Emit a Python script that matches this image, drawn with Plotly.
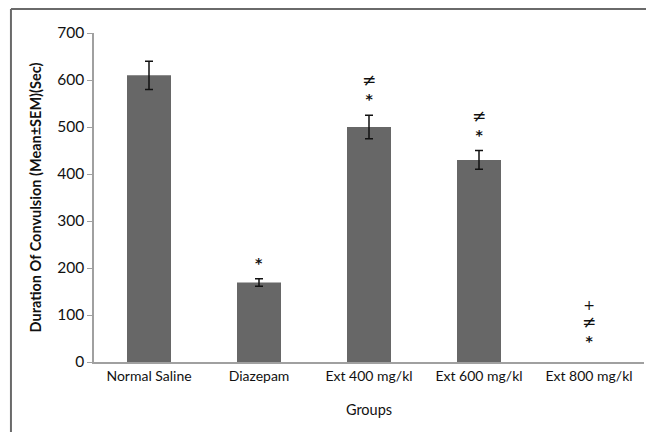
import plotly.graph_objects as go

groups = ["Normal Saline", "Diazepam", "Ext 400 mg/kl", "Ext 600 mg/kl", "Ext 800 mg/kl"]
means = [610, 169, 500, 430, 0]
sems = [30, 8, 25, 20, 0]
marks = [[], ["*"], ["≠", "*"], ["≠", "*"], ["+", "≠", "*"]]
y_ticks = [0, 100, 200, 300, 400, 500, 600, 700]

FONT = "Lato, 'Open Sans', sans-serif"
MARK_FONT = "'DejaVu Sans', sans-serif"
MARK_STYLE = {"*": "<b>*</b>", "≠": "<span style='font-size:17px'>≠</span>", "+": "+"}

fig = go.Figure()
fig.add_trace(go.Bar(
    x=groups, y=means,
    marker=dict(color="#676767", line=dict(width=0)),
    width=0.4,
    showlegend=False,
))

eb = [(g, m, s) for g, m, s in zip(groups, means, sems) if s > 0]
fig.add_trace(go.Scatter(
    x=[e[0] for e in eb], y=[e[1] for e in eb], mode="markers",
    marker=dict(size=0.1, color="rgba(0,0,0,0)"),
    error_y=dict(type="data", array=[e[2] for e in eb], visible=True,
                 color="#111111", thickness=1.5, width=4),
    showlegend=False, hoverinfo="skip",
))

for g, m, s, t in zip(groups, means, sems, marks):
    if t:
        fig.add_annotation(x=g, y=m + s, text="<br>".join(MARK_STYLE[c] for c in t),
                           showarrow=False, yanchor="bottom",
                           yshift=6 if s > 0 else 11,
                           font=dict(family=MARK_FONT, size=14, color="#111111"))

fig.update_layout(
    width=646, height=432,
    margin=dict(l=94, r=2, t=33, b=70),
    paper_bgcolor="white", plot_bgcolor="white",
    font=dict(family=FONT, size=14, color="#111111"),
    bargap=0.6,
    xaxis=dict(showline=True, linecolor="#a0a0a0", linewidth=1.5, ticks="",
               title=dict(text="Groups", font=dict(size=14.5), standoff=22),
               tickfont=dict(size=14)),
    yaxis=dict(range=[0, 700], tickvals=y_ticks, showgrid=False, zeroline=False,
               showline=True, linecolor="#a0a0a0", linewidth=1.5,
               ticks="outside", ticklen=5, tickcolor="#a0a0a0",
               tickfont=dict(size=15.5),
               title=dict(text="<b>Duration Of Convulsion (Mean±SEM)(Sec)</b>",
                          font=dict(size=14.5), standoff=12)),
    shapes=[
        dict(type="line", xref="paper", yref="paper", x0=-0.151, x1=-0.151, y0=-0.22, y1=1.073,
             line=dict(color="#6a6a6a", width=2)),
        dict(type="line", xref="paper", yref="paper", x0=-0.151, x1=1.01, y0=1.073, y1=1.073,
             line=dict(color="#6a6a6a", width=2)),
    ],
)

fig.write_html("out.html")
